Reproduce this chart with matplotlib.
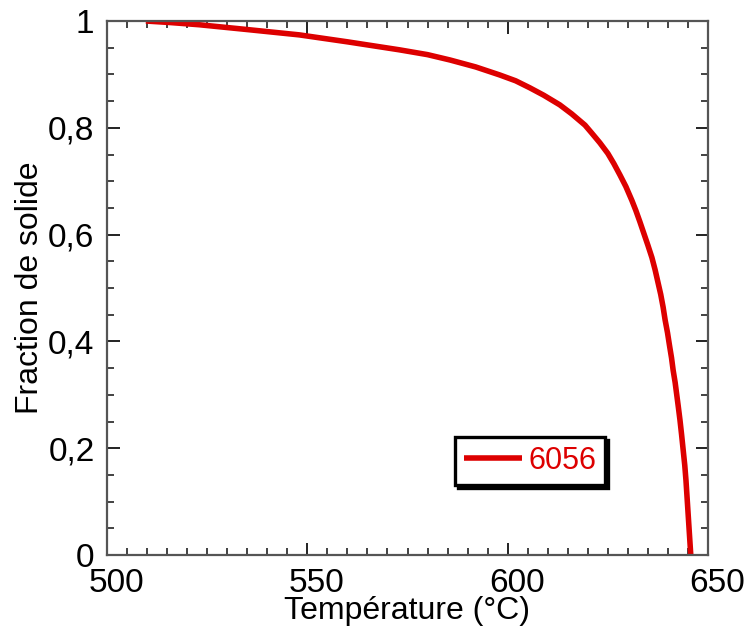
import matplotlib.pyplot as plt
from matplotlib.ticker import MultipleLocator, FuncFormatter
from matplotlib.transforms import ScaledTranslation

plt.rcParams['font.family'] = ['Liberation Sans', 'DejaVu Sans']

# courbe
temp = [509.7, 516, 523, 535, 548, 560, 573, 580, 585.6, 592, 598, 602, 605.5,
        609, 613, 616, 619.3, 621, 623, 625, 626.5, 628, 629.5, 631, 632, 633,
        634, 635, 636, 636.8, 637.5, 638.2, 638.8, 639.3, 639.9, 640.4, 640.9,
        641.3, 641.8, 642.2, 642.6, 643, 643.4, 643.8, 644.2, 644.5, 644.8,
        645.1, 645.4, 645.7]
frac = [1.0, 0.997, 0.993, 0.984, 0.974, 0.961, 0.946, 0.937, 0.927, 0.914,
        0.899, 0.888, 0.875, 0.861, 0.843, 0.826, 0.805, 0.790, 0.772, 0.752,
        0.733, 0.712, 0.690, 0.664, 0.645, 0.624, 0.602, 0.580, 0.557, 0.534,
        0.511, 0.488, 0.464, 0.44, 0.416, 0.392, 0.369, 0.346, 0.323, 0.30,
        0.277, 0.253, 0.226, 0.197, 0.168, 0.14, 0.105, 0.07, 0.035, 0.0]
label = '6056'
red = '#dd0000'

fig = plt.figure(figsize=(7.47, 6.27), dpi=100)
ax = fig.add_axes([107/747, 72/627, 601/747, 534/627])

ax.plot(temp, frac, color=red, lw=4.0, label=label, solid_capstyle='butt')

ax.set_xlim(500, 650)
ax.set_ylim(0, 1)
ax.xaxis.set_major_locator(MultipleLocator(50))
ax.xaxis.set_minor_locator(MultipleLocator(5))
ax.yaxis.set_major_locator(MultipleLocator(0.2))
ax.yaxis.set_minor_locator(MultipleLocator(0.05))
ax.yaxis.set_major_formatter(FuncFormatter(
    lambda v, p: '0' if abs(v) < 1e-9 else ('1' if abs(v - 1) < 1e-9 else f'{v:.1f}'.replace('.', ','))))

ax.tick_params(which='both', direction='in', top=True, right=True,
               labelsize=24, color='#222222')
ax.tick_params(which='major', length=9, width=1.4)
ax.tick_params(which='minor', length=5, width=1.2)
ax.tick_params(axis='x', pad=9)
ax.tick_params(axis='y', pad=9)
for s in ax.spines.values():
    s.set_linewidth(1.6)
    s.set_color('#555555')

# les valeurs en x sont un peu decalees vers la droite
shift = ScaledTranslation(0.09, 0, fig.dpi_scale_trans)
for lab in ax.get_xticklabels():
    lab.set_transform(lab.get_transform() + shift)

ax.set_xlabel('Température (°C)', fontsize=23, labelpad=-2)
ax.set_ylabel('Fraction de solide', fontsize=23, labelpad=2)

leg = ax.legend(loc='upper left', bbox_to_anchor=(0.579, 0.221), borderaxespad=0,
                fontsize=22, fancybox=False, handlelength=1.9, handletextpad=0.2,
                borderpad=0.3, labelcolor=red,
                shadow={'color': 'black', 'alpha': 1})
leg.get_frame().set_edgecolor('black')
leg.get_frame().set_linewidth(2.4)

fig.savefig('out.png', dpi=100)
